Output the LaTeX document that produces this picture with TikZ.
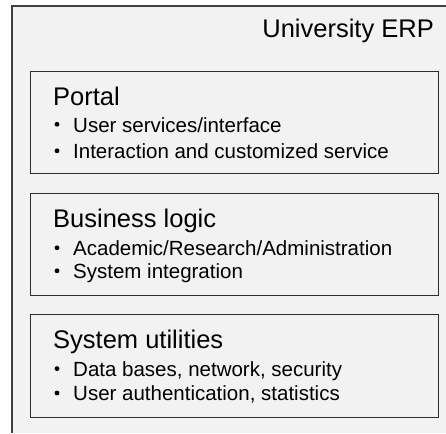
\documentclass[tikz,border=0pt]{standalone}
\usepackage{fontspec}
\setmainfont{Liberation Sans}
\usepackage{tikz}
\usetikzlibrary{positioning, calc}
\definecolor{framegray}{RGB}{64, 64, 64}
\definecolor{boxgray}{RGB}{45, 45, 45}
\definecolor{paneback}{RGB}{242, 242, 242}
\tikzset{
  layerbox/.style={draw=boxgray, line width=1.4pt, minimum width=408pt, minimum height=102pt, anchor=north west, inner sep=0pt},
  layerhead/.style={font=\fontsize{25.5}{25.5}\selectfont, anchor=base west, inner sep=0pt},
  layeritem/.style={font=\fontsize{20.5}{20.5}\selectfont, anchor=base west, inner sep=0pt},
}

\begin{document}
\begin{tikzpicture}[x=1pt, y=-1pt]
  \useasboundingbox (0, 0) rectangle (446, 433);

  % Outer frame, running past the right and bottom edges
  \fill[paneback] (12, 6) rectangle (446, 433);
  \draw[framegray, line width=1.5pt] (12, 433) -- (12, 6) -- (446, 6);
  \node[font=\fontsize{25.5}{25.5}\selectfont, anchor=base east, inner sep=0pt] (erp) at (434, 38) {University ERP};

  % Portal layer
  \node[layerbox] (portal) at (30, 71) {};
  \node[layerhead] (portalhead) at (53, 105) {Portal};
  \foreach \yy/\txt [count=\i] in {132/User services\slash interface, 158.5/Interaction and customized service} {
    \fill (57, \yy-7.7) circle (2.4pt);
    \node[layeritem] (portalitem\i) at (73, \yy) {\txt};
  }

  % Business logic layer
  \node[layerbox] (business) at (30, 193) {};
  \node[layerhead] (businesshead) at (53, 227) {Business logic};
  \foreach \yy/\txt [count=\i] in {255.5/Academic\slash Research\slash Administration, 278.5/System integration} {
    \fill (57, \yy-7.7) circle (2.4pt);
    \node[layeritem] (businessitem\i) at (73, \yy) {\txt};
  }

  % System utilities layer
  \node[layerbox, minimum height=103pt] (utilities) at (30, 314) {};
  \node[layerhead] (utilitieshead) at (53, 348) {System utilities};
  \foreach \yy/\txt [count=\i] in {376.3/Data bases{,} network{,} security, 400.7/User authentication{,} statistics} {
    \fill (57, \yy-7.7) circle (2.4pt);
    \node[layeritem] (utilitiesitem\i) at (73, \yy) {\txt};
  }
\end{tikzpicture}
\end{document}
